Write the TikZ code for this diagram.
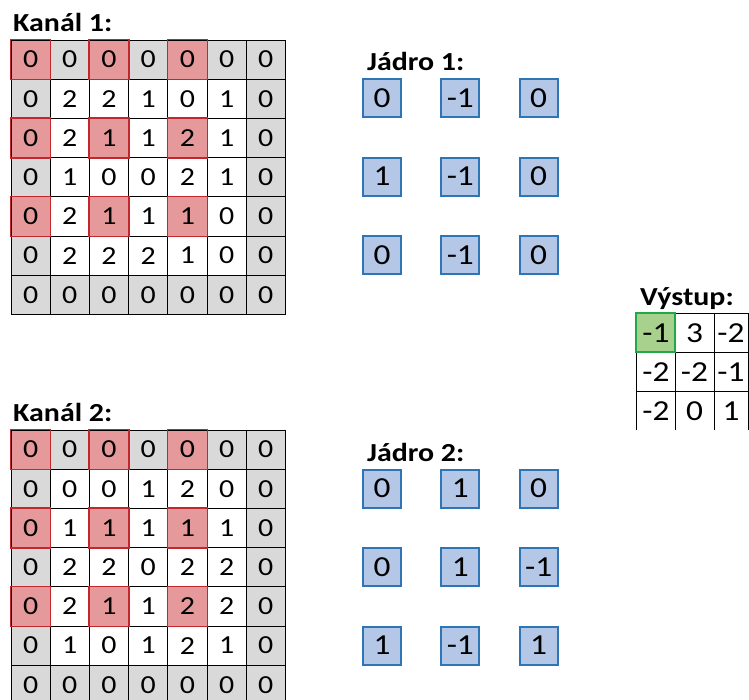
\documentclass[tikz,border=0pt]{standalone}
\usepackage{fontspec}
\setmainfont[FakeStretch=1.15]{Carlito}
\definecolor{gridgrey}{HTML}{D9D9D9}
\definecolor{redfill}{HTML}{E6999B}
\definecolor{redline}{HTML}{C4262E}
\definecolor{kfill}{HTML}{B4C7E7}
\definecolor{kline}{HTML}{2E75B6}
\definecolor{gfill}{HTML}{A9D18E}
\definecolor{gline}{HTML}{21A84A}
\tikzset{
  cellbox/.style={draw=black, line width=0.9pt, minimum width=39.2pt, minimum height=39.2pt, inner sep=0pt, font=\fontsize{26}{30}\selectfont},
  redframe/.style={draw=redline, line width=1.6pt},
  kbox/.style={draw=kline, fill=kfill, line width=2pt, minimum size=38pt, inner sep=0pt, font=\fontsize{29}{32}\selectfont},
  outtext/.style={inner sep=0pt, font=\fontsize{29}{32}\selectfont},
  outline/.style={draw=black, line width=0.9pt},
  title/.style={anchor=base west, inner sep=0pt, font=\fontsize{26}{30}\selectfont\bfseries}
}
\begin{document}
\begin{tikzpicture}[x=1pt,y=-1pt]
\useasboundingbox (0,0) rectangle (749,699);
\clip (0,0) rectangle (749,699);
% ---------- input channels ----------
\foreach \name/\top/\vals in {
  ka/40/{{0,0,0,0,0,0,0},{0,2,2,1,0,1,0},{0,2,1,1,2,1,0},{0,1,0,0,2,1,0},{0,2,1,1,1,0,0},{0,2,2,2,1,0,0},{0,0,0,0,0,0,0}},
  kb/430/{{0,0,0,0,0,0,0},{0,0,0,1,2,0,0},{0,1,1,1,1,1,0},{0,2,2,0,2,2,0},{0,2,1,1,2,2,0},{0,1,0,1,2,1,0},{0,0,0,0,0,0,0}}}{
  \foreach \row [count=\r from 0] in \vals {
    \foreach \v [count=\c from 0] in \row {
      \pgfmathtruncatemacro{\border}{(\r==0)||(\r==6)||(\c==0)||(\c==6)}
      \pgfmathtruncatemacro{\hot}{(mod(\r,2)==0)&&(mod(\c,2)==0)&&(\r<5)&&(\c<5)}
      \ifnum\hot=1
        \def\fc{redfill}
      \else
        \ifnum\border=1 \def\fc{gridgrey}\else\def\fc{white}\fi
      \fi
      \node[cellbox, fill=\fc] (\name-\r-\c) at ({11+39.2*(\c+0.5)},{\top+39.2*(\r+0.5)}) {\v};
    }
  }
  \foreach \r in {0,2,4}{
    \foreach \c in {0,2,4}{
      \draw[redframe] (\name-\r-\c.north west) rectangle (\name-\r-\c.south east);
    }
  }
}
\node[title] (t1) at (13,31) {Kanál 1:};
\node[title] (t2) at (13,421) {Kanál 2:};
% ---------- kernels ----------
\node[title] (j1) at (367,70) {Jádro 1:};
\node[title] (j2) at (367,461) {Jádro 2:};
\foreach \name/\top/\vals in {
  ja/98/{{0,-1,0},{1,-1,0},{0,-1,0}},
  jb/488.5/{{0,1,0},{0,1,-1},{1,-1,1}}}{
  \foreach \row [count=\r from 0] in \vals {
    \foreach \v [count=\c from 0] in \row {
      \node[kbox] (\name-\r-\c) at ({382+78.3*\c},{\top+78.5*\r}) {\v};
    }
  }
}
% ---------- output ----------
\node[title] (vy) at (640,305) {Výstup:};
\fill[gfill] (636,313) rectangle (675,353);
\foreach \row [count=\r from 0] in {{-1,3,-2},{-2,-2,-1},{-2,0,1}} {
  \foreach \v [count=\c from 0] in \row {
    \pgfmathsetmacro{\xc}{{656,694.5,731}[\c]}
    \node[outtext] (o-\r-\c) at (\xc,{313+39*(\r+0.5)+1}) {\v};
  }
}
\foreach \xx in {636,675,714,748}{
  \draw[outline] (\xx,313) -- (\xx,430);
}
\foreach \yy in {313,352,391}{
  \draw[outline] (636,\yy) -- (749,\yy);
}
\draw[draw=gline, line width=1.8pt] (636,313) rectangle (675,352);
\end{tikzpicture}
\end{document}
